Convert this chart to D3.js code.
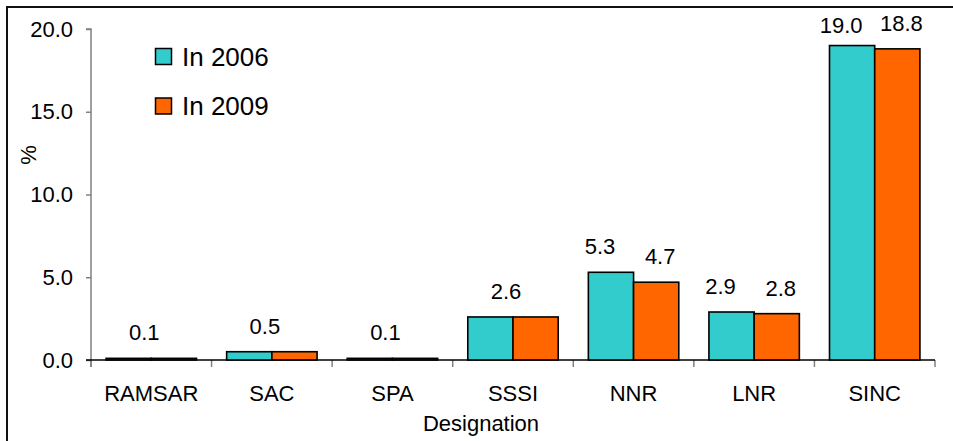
<!DOCTYPE html>
<html><head><meta charset="utf-8">
<script src="https://cdn.jsdelivr.net/npm/d3@7"></script>
<style>body{margin:0;background:#fff}svg{display:block;font-family:"Liberation Sans",Arial,sans-serif}</style>
</head><body><svg id="c" width="953" height="441"></svg>
<script>
const categories = ["RAMSAR","SAC","SPA","SSSI","NNR","LNR","SINC"];
const values2006 = [0.1,0.5,0.1,2.6,5.3,2.9,19.0];
const values2009 = [0.1,0.5,0.1,2.6,4.7,2.8,18.8];
const seriesNames = ["In 2006","In 2009"];
const yTicks = [0,5,10,15,20];
const colors = ["#33CCCC","#FF6600"];

(function(){
const svg = d3.select("#c");
const pL = 91, pR = 935, pT = 29, pB = 360;

svg.append("rect").attr("x",7).attr("y",7).attr("width",1000).attr("height",1000)
  .attr("fill","none").attr("stroke","#111").attr("stroke-width",2);

const x = d3.scaleBand().domain(categories).range([pL,pR]).paddingInner(0.25).paddingOuter(0.125);
const y = d3.scaleLinear().domain([0,20]).range([pB,pT]);
const xs = d3.scaleBand().domain(seriesNames).range([0,x.bandwidth()]);

// y axis
const ya = svg.append("g").attr("transform",`translate(${pL},0)`)
  .call(d3.axisLeft(y).tickValues(yTicks).tickFormat(d3.format(".1f")).tickSize(5).tickPadding(13));
ya.selectAll("path,line").attr("stroke","#808080").attr("stroke-width",1.5);
ya.select(".domain").attr("d",`M-5,${pT}H0V${pB+7}`);
ya.selectAll("text").attr("font-size",22).attr("fill","#000").attr("font-family","Liberation Sans, Arial, sans-serif");

// x axis boundary ticks
const step = x.step();
const bounds = categories.map(c => x(c) - step*x.paddingOuter()).concat([pR]);
svg.append("g").selectAll("line").data(bounds).join("line")
  .attr("x1",d=>d).attr("x2",d=>d).attr("y1",pB).attr("y2",pB+7)
  .attr("stroke","#808080").attr("stroke-width",1.5);
svg.append("line").attr("x1",pL-5).attr("x2",pR).attr("y1",pB).attr("y2",pB)
  .attr("stroke","#000").attr("stroke-width",1.5);

// x labels
svg.append("g").selectAll("text").data(categories).join("text")
  .attr("x",c=>x(c)+x.bandwidth()/2).attr("y",401).attr("text-anchor","middle")
  .attr("font-size",22).text(c=>c);

svg.append("text").attr("x",481).attr("y",431).attr("text-anchor","middle").attr("font-size",22).text("Designation");
svg.append("text").attr("transform","translate(36,155) rotate(-90)").attr("text-anchor","middle").attr("font-size",22).text("%");

// bars
const data = categories.map((c,i)=>({c, v:[values2006[i],values2009[i]]}));
const groups = svg.append("g").selectAll("g").data(data).join("g").attr("transform",d=>`translate(${x(d.c)},0)`);
groups.selectAll("rect").data(d=>d.v.map((v,j)=>({v,j}))).join("rect")
  .attr("x",d=>xs(seriesNames[d.j])).attr("width",xs.bandwidth())
  .attr("y",d=>y(d.v)).attr("height",d=>pB-y(d.v))
  .attr("fill",d=>colors[d.j]).attr("stroke","#000").attr("stroke-width",1.6);

// labels
const fmt = d3.format(".1f");
data.forEach(d=>{
  const g = svg.append("g");
  const same = d.v[0]===d.v[1];
  if(same){
    const yy = y(d.v[0]) - 18;
    g.append("text").attr("x",x(d.c)+x.bandwidth()/2-7).attr("y",yy).attr("text-anchor","middle").attr("font-size",22).text(fmt(d.v[0]));
  } else {
    d.v.forEach((v,j)=>{
      const t0 = y(v);
      const yy = t0-18 < 30 ? t0-12.5 : t0-18;
      const shift = j===0 ? -11 : 4;
      g.append("text").attr("x",x(d.c)+xs(seriesNames[j])+xs.bandwidth()/2+shift).attr("y",yy)
        .attr("text-anchor","middle").attr("font-size",22).text(fmt(v));
    });
  }
});

// legend
const lg = svg.append("g");
seriesNames.forEach((n,i)=>{
  lg.append("rect").attr("x",155.5).attr("y",48.5+i*49.5).attr("width",16).attr("height",16)
    .attr("fill",colors[i]).attr("stroke","#000").attr("stroke-width",1.5);
  lg.append("text").attr("x",182).attr("y",65.5+i*49).attr("font-size",26).text(n);
});
})();
</script></body></html>
